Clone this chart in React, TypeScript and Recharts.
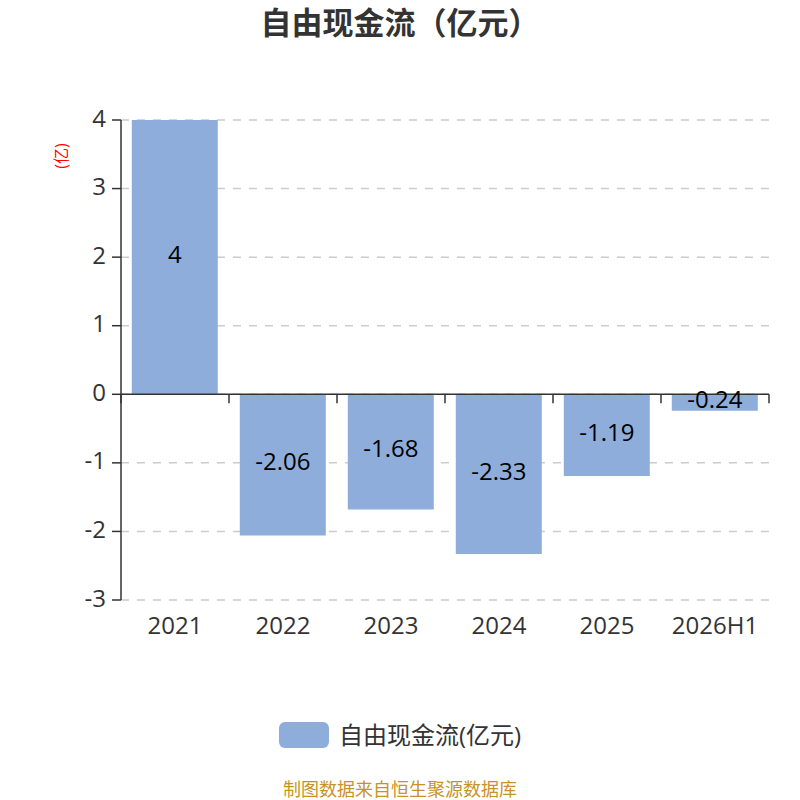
import { Bar, BarChart, CartesianGrid, LabelList, ReferenceLine, XAxis, YAxis } from "recharts";

const years = ["2021", "2022", "2023", "2024", "2025", "2026H1"];
const freeCashFlow = [4, -2.06, -1.68, -2.33, -1.19, -0.24];
const yTicks = [-3, -2, -1, 0, 1, 2, 3, 4];

const data = years.map((year, i) => ({ year, value: freeCashFlow[i] }));

const FONT = '"Open Sans", "Noto Sans CJK SC", sans-serif';
const BAR_COLOR = "#8eaddb";
const AXIS_COLOR = "#333";

// zero line acting as the category axis, with boundary ticks hanging below it
function ZeroAxis(props: any) {
  const { x1, x2, y1 } = props;
  const step = (x2 - x1) / years.length;
  const ticks = Array.from({ length: years.length + 1 }, (_, i) => x1 + i * step);
  return (
    <g>
      <line x1={x1} x2={x2} y1={y1} y2={y1} stroke={AXIS_COLOR} strokeWidth={1.5} />
      {ticks.map((tx) => (
        <line key={tx} x1={tx} x2={tx} y1={y1} y2={y1 + 9} stroke={AXIS_COLOR} strokeWidth={1.5} />
      ))}
    </g>
  );
}

function AxisName({ viewBox }: any) {
  const x = viewBox.x;
  const y = viewBox.y + 36;
  return (
    <text
      x={x}
      y={y}
      transform={`rotate(-90 ${x} ${y})`}
      textAnchor="middle"
      dominantBaseline="central"
      fill="#ff0000"
      fontSize={16}
      fontFamily={FONT}
    >
      (亿)
    </text>
  );
}

export default function App() {
  return (
    <div style={{ position: "absolute", left: 0, top: 0, width: 800, height: 800, background: "#fff", fontFamily: FONT, overflow: "hidden" }}>
      <div
        style={{
          position: "absolute",
          top: 4,
          width: 800,
          textAlign: "center",
          fontSize: 31,
          lineHeight: "37px",
          fontWeight: "bold",
          color: "#333",
        }}
      >
        自由现金流（亿元）
      </div>

      <BarChart width={800} height={800} data={data} margin={{ top: 120, right: 31, bottom: 140, left: 61 }} barCategoryGap="10%">
        <CartesianGrid vertical={false} stroke="#cccccc" strokeWidth={1.5} strokeDasharray="8 8" />
        <XAxis
          dataKey="year"
          axisLine={false}
          tickLine={false}
          height={60}
          tickMargin={11}
          tick={{ fill: AXIS_COLOR, fontSize: 24, fontFamily: FONT }}
        />
        <YAxis
          domain={[-3, 4]}
          ticks={yTicks}
          interval={0}
          width={60}
          axisLine={{ stroke: AXIS_COLOR, strokeWidth: 1.5 }}
          tickLine={{ stroke: AXIS_COLOR, strokeWidth: 1.5 }}
          tickSize={9}
          tickMargin={6}
          tick={{ fill: AXIS_COLOR, fontSize: 24, fontFamily: FONT, dy: -2 }}
          label={<AxisName />}
        />
        <Bar dataKey="value" fill={BAR_COLOR} isAnimationActive={false}>
          <LabelList dataKey="value" position="center" fill="#000" fontSize={24} fontFamily={FONT} dy={-3} />
        </Bar>
        <ReferenceLine y={0} shape={<ZeroAxis />} />
      </BarChart>

      <div style={{ position: "absolute", top: 720, left: 0, width: 800, height: 30, display: "flex", justifyContent: "center", alignItems: "center" }}>
        <div style={{ width: 50, height: 26, borderRadius: 6, background: BAR_COLOR, marginRight: 10 }} />
        <span style={{ fontSize: 24, lineHeight: "30px", color: "#333" }}>自由现金流(亿元)</span>
      </div>

      <div style={{ position: "absolute", top: 780, width: 800, textAlign: "center", fontSize: 18, lineHeight: "18px", color: "#c8922a" }}>
        制图数据来自恒生聚源数据库
      </div>
    </div>
  );
}
